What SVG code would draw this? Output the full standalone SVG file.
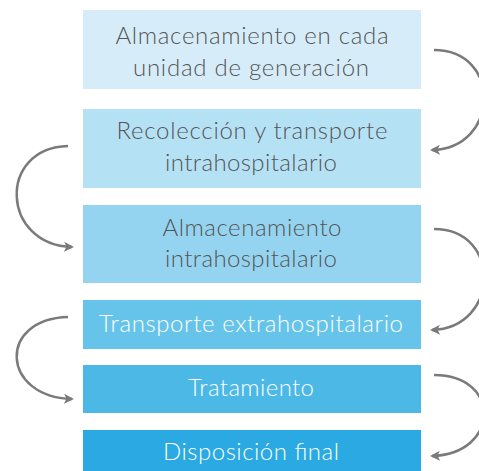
<svg xmlns="http://www.w3.org/2000/svg" width="479" height="471" viewBox="0 0 479 471">
<style>
.t{font-family:Lato,"Liberation Sans",sans-serif;font-weight:300;font-size:24px;text-anchor:middle}
.d{fill:#555}
.w{fill:#fff}
.c{fill:none;stroke:#7a7a7a;stroke-width:2.5}
</style>
<defs>
<marker id="ah" viewBox="0 0 10 10" refX="8" refY="5" markerWidth="4" markerHeight="4" orient="auto" markerUnits="strokeWidth">
<path d="M0,0 L10,5 L0,10 L2.5,5 z" fill="#7a7a7a"/>
</marker>
</defs>
<rect width="479" height="471" fill="#fff"/>
<g id="n1"><rect x="83" y="10" width="338" height="79" fill="#d6edf9"/>
<text class="t d" x="252" y="44" textLength="273" lengthAdjust="spacing">Almacenamiento en cada</text>
<text class="t d" x="251" y="76" textLength="236" lengthAdjust="spacing">unidad de generación</text></g>
<g id="n2"><rect x="83" y="109" width="338" height="79" fill="#b5e1f5"/>
<text class="t d" x="252" y="139" textLength="271" lengthAdjust="spacing">Recolección y transporte</text>
<text class="t d" x="251" y="171" textLength="172" lengthAdjust="spacing">intrahospitalario</text></g>
<g id="n3"><rect x="83" y="205" width="338" height="78" fill="#95d4f0"/>
<text class="t d" x="252" y="236" textLength="179" lengthAdjust="spacing">Almacenamiento</text>
<text class="t d" x="251" y="267" textLength="172" lengthAdjust="spacing">intrahospitalario</text></g>
<g id="n4"><rect x="83" y="300" width="338" height="49" fill="#66c4ea"/>
<text class="t w" x="251" y="332" textLength="304" lengthAdjust="spacing">Transporte extrahospitalario</text></g>
<g id="n5"><rect x="83" y="365" width="338" height="48" fill="#4cb8e6"/>
<text class="t w" x="251" y="396" textLength="126" lengthAdjust="spacing">Tratamiento</text></g>
<g id="n6"><rect x="83" y="430" width="338" height="41" fill="#2ba9e2"/>
<text class="t w" x="251" y="460" textLength="176" lengthAdjust="spacing">Disposición final</text></g>
<g id="connectors">
<path class="c" d="M434,50 C502,50 500,148 432,150" marker-end="url(#ah)"/>
<path class="c" d="M68,146 C-3,148 1,245 72,247" marker-end="url(#ah)"/>
<path class="c" d="M434,229 C502,229 500,328 432,330" marker-end="url(#ah)"/>
<path class="c" d="M68,317 C-3,319 1,397 72,399" marker-end="url(#ah)"/>
<path class="c" d="M434,375 C502,375 500,454 432,456" marker-end="url(#ah)"/>
</g>
</svg>
